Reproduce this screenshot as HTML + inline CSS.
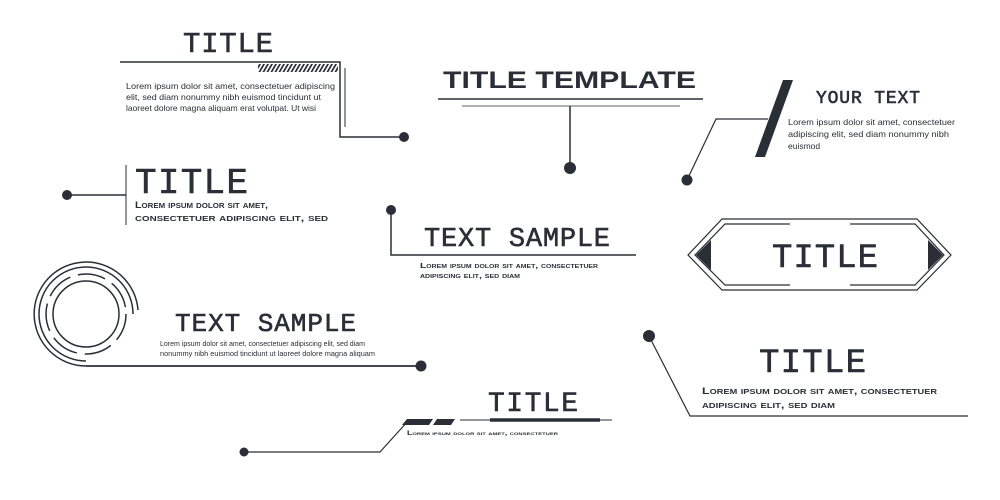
<!DOCTYPE html>
<html><head><meta charset="utf-8"><style>
html,body{margin:0;padding:0;background:#fff;}
svg{display:block;}
.m{font-family:"Liberation Mono",monospace;fill:#2a2e37;stroke:#2a2e37;stroke-width:0.6;}
.s{font-family:"Liberation Sans",sans-serif;fill:#2a2e37;}
.sc{font-family:"Liberation Sans",sans-serif;fill:#2a2e37;font-variant:small-caps;font-weight:bold;}
</style></head><body>
<svg width="1000" height="500" viewBox="0 0 1000 500" xmlns="http://www.w3.org/2000/svg">
<defs>
<pattern id="h" width="4" height="8" patternUnits="userSpaceOnUse" patternTransform="skewX(-30)">
<rect x="0" y="0" width="2" height="8" fill="#2a2e37"/></pattern>
</defs>
<g stroke="#2a2e37" fill="none">
<path d="M120 62H340V137H404" stroke-width="1.5"/>
<path d="M345 68V127" stroke-width="1"/>
<path d="M438 99H703" stroke-width="1.5"/>
<path d="M462 106H680" stroke-width="0.8"/>
<path d="M570 106V166" stroke-width="1.5"/>
<path d="M687 180L716 119H768" stroke-width="1.2"/>
<path d="M67 195H126" stroke-width="1.5"/>
<path d="M126 165V225" stroke-width="1"/>
<path d="M391 210V255H636" stroke-width="1.5"/>
<path d="M722 219H917L951 255L917 290H722L688 255Z" stroke-width="1.2"/>
<path d="M790 224H725L695 255L725 285H790" stroke-width="1.2"/>
<path d="M850 224H915L944 255L915 285H850" stroke-width="1.2"/>
<circle cx="86" cy="314" r="33" stroke-width="1.5"/>
<circle cx="86" cy="314" r="40" stroke-width="1.5" stroke-dasharray="28 8"/>
<path d="M86 361A47 47 0 1 1 133 314" stroke-width="1.5"/>
<path d="M86 366A52 52 0 1 1 138 310" stroke-width="1.5"/>
<path d="M86 366H421" stroke-width="1.8"/>
<path d="M649 336L690 416H968" stroke-width="1.2"/>
<path d="M244 452H380L408 421" stroke-width="1.2"/>
<path d="M460 420H612" stroke-width="1"/>
<path d="M490 420H600" stroke-width="3.5"/>
</g>
<g fill="#2a2e37">
<rect x="258" y="64" width="80" height="8" fill="url(#h)"/>
<circle cx="404" cy="137" r="5"/>
<circle cx="570" cy="168" r="6"/>
<path d="M783 80H793L765 157H755Z"/>
<circle cx="687" cy="180" r="5.5"/>
<circle cx="67" cy="195" r="5"/>
<circle cx="391" cy="210" r="5"/>
<path d="M696 255L711 240V270Z"/>
<path d="M943 255L928 240V270Z"/>
<circle cx="421" cy="366" r="5.5"/>
<circle cx="649" cy="336" r="6"/>
<circle cx="244" cy="452" r="4.5"/>
<path d="M407 419H433L429 425H402Z"/>
<path d="M437 419H455L451 425H433Z"/>
</g>
<text class="m" x="183" y="52" font-size="29" textLength="90">TITLE</text>
<text class="s" x="126" y="89" font-size="8.5" textLength="209" lengthAdjust="spacingAndGlyphs">Lorem ipsum dolor sit amet, consectetuer adipiscing</text>
<text class="s" x="126" y="100" font-size="8.5" textLength="195" lengthAdjust="spacingAndGlyphs">elit, sed diam nonummy nibh euismod tincidunt ut</text>
<text class="s" x="126" y="111" font-size="8.5" textLength="190" lengthAdjust="spacingAndGlyphs">laoreet dolore magna aliquam erat volutpat. Ut wisi</text>

<text class="s" x="443" y="88" font-size="24" font-weight="bold" textLength="253" lengthAdjust="spacingAndGlyphs">TITLE TEMPLATE</text>

<text class="m" x="816" y="103" font-size="18" textLength="104">YOUR TEXT</text>
<text class="s" x="788" y="125" font-size="8.5" textLength="167" lengthAdjust="spacingAndGlyphs">Lorem ipsum dolor sit amet, consectetuer</text>
<text class="s" x="788" y="137" font-size="8.5" textLength="161" lengthAdjust="spacingAndGlyphs">adipiscing elit, sed diam nonummy nibh</text>
<text class="s" x="788" y="149" font-size="8.5">euismod</text>

<text class="m" x="135" y="193" font-size="36" textLength="113">TITLE</text>
<text class="sc" x="135" y="208" font-size="9.5" textLength="133" lengthAdjust="spacingAndGlyphs">Lorem ipsum dolor sit amet,</text>
<text class="sc" x="135" y="221" font-size="9.5" textLength="193" lengthAdjust="spacingAndGlyphs">consectetuer adipiscing elit, sed</text>

<text class="m" x="424" y="246" font-size="27" textLength="186">TEXT SAMPLE</text>
<text class="sc" x="420" y="268" font-size="7.5" textLength="178" lengthAdjust="spacingAndGlyphs">Lorem ipsum dolor sit amet, consectetuer</text>
<text class="sc" x="420" y="278" font-size="7.5" textLength="100" lengthAdjust="spacingAndGlyphs">adipiscing elit, sed diam</text>

<text class="m" x="772" y="267" font-size="34" textLength="106">TITLE</text>

<text class="m" x="175" y="331" font-size="26" textLength="181">TEXT SAMPLE</text>
<text class="s" x="160" y="346" font-size="7.5" textLength="205" lengthAdjust="spacingAndGlyphs">Lorem ipsum dolor sit amet, consectetuer adipiscing elit, sed diam</text>
<text class="s" x="160" y="356" font-size="7.5" textLength="215" lengthAdjust="spacingAndGlyphs">nonummy nibh euismod tincidunt ut laoreet dolore magna aliquam</text>

<text class="m" x="759" y="372" font-size="34" textLength="107">TITLE</text>
<text class="sc" x="702" y="394" font-size="9.5" textLength="235" lengthAdjust="spacingAndGlyphs">Lorem ipsum dolor sit amet, consectetuer</text>
<text class="sc" x="702" y="408" font-size="9.5" textLength="133" lengthAdjust="spacingAndGlyphs">adipiscing elit, sed diam</text>

<text class="m" x="488" y="411" font-size="28" textLength="90">TITLE</text>
<text class="sc" x="407" y="435" font-size="6" textLength="151" lengthAdjust="spacingAndGlyphs">Lorem ipsum dolor sit amet, consectetuer</text>
</svg>
</body></html>
